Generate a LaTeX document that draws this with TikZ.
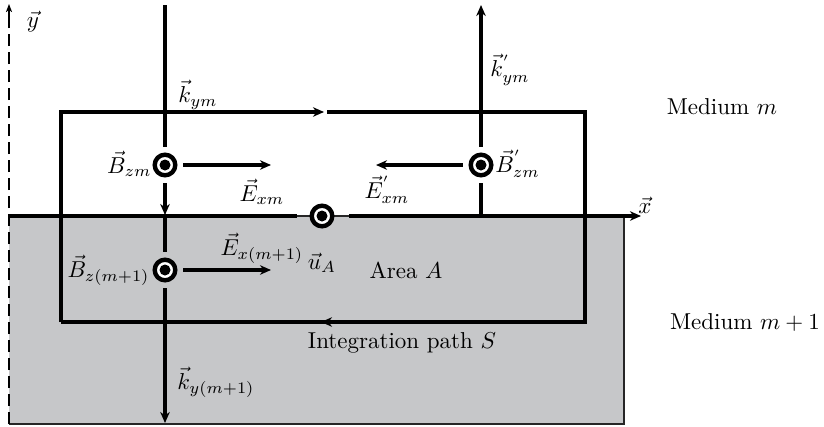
\documentclass[tikz,border=0pt]{standalone}
\usetikzlibrary{arrows.meta}
\definecolor{mgrey}{RGB}{198,199,201}
\begin{document}
\begin{tikzpicture}[x=1pt,y=-1pt,
  thickline/.style={line width=3.9pt},
  arr/.style={-{Stealth[length=11pt,width=9.5pt,inset=3.5pt]}},
  smallarr/.style={-{Stealth[length=8pt,width=6pt,inset=2pt]}},
  lbl/.style={scale=2.3, inner sep=0pt},
  dotc/.style={circle, minimum size=36pt, inner sep=0pt, path picture={
     \fill[white] (path picture bounding box.center) circle (10pt);
     \draw[line width=4.4pt] (path picture bounding box.center) circle (10.3pt);
     \fill (path picture bounding box.center) circle (5.5pt);}},
  dotu/.style={circle, minimum size=28pt, inner sep=0pt, path picture={
     \fill[white] (path picture bounding box.center) circle (10pt);
     \draw[line width=4.4pt] (path picture bounding box.center) circle (10.3pt);
     \fill (path picture bounding box.center) circle (5.5pt);}},
]
\useasboundingbox (0,0) rectangle (824,426);

% medium m+1 region
\fill[mgrey] (9,216) rectangle (624,424);
\draw[line width=1.3pt, black!85] (9,216) -- (624,216) -- (624,424) -- (9,424);

% coordinates
\coordinate (ytop) at (9,4);
\coordinate (ymid) at (9,20);
\coordinate (ybot) at (9,424);
\coordinate (xs) at (9,216);
\coordinate (xg1) at (297,216);
\coordinate (xg2) at (349,216);
\coordinate (xe) at (641,216);
\coordinate (p1) at (61,112);
\coordinate (p2) at (585,112);
\coordinate (p3) at (585,322);
\coordinate (p4) at (61,322);
\coordinate (pt1) at (324,112);
\coordinate (pt2) at (327,112);
\coordinate (pb) at (321,322);
\coordinate (ktop) at (165,5);
\coordinate (kax) at (165,215);
\coordinate (kax2) at (165,216);
\coordinate (kbot) at (165,423);
\coordinate (krax) at (481,216);
\coordinate (krtop) at (481,5);
\coordinate (e1) at (271,165);
\coordinate (e2) at (376,165);
\coordinate (e3) at (271,270);

% integration path
\draw[thickline, arr] (p4) -- (p1) -- (pt1);
\draw[thickline] (pt2) -- (p2) -- (p3) -- (pb);
\draw[thickline, arr] (p3) -- (pb);
\draw[thickline] (p4) -- (pb);

% axes
\draw[line width=2pt, dash pattern=on 12pt off 6pt] (ybot) -- (ymid);
\draw[line width=2pt, smallarr] (ymid) -- (ytop);
\draw[thickline] (xs) -- (xg1);
\draw[thickline, arr] (xg2) -- (xe);

% circles
\node[dotc] (Bzm) at (165,165) {};
\node[dotc] (Bzmp) at (481,165) {};
\node[dotc] (Bz1) at (165,270) {};
\node[dotu] (uA) at (322,216) {};

% wave vectors
\draw[thickline] (ktop) -- (Bzm);
\draw[thickline, arr] (Bzm) -- (kax);
\draw[thickline] (kax2) -- (Bz1);
\draw[thickline, arr] (Bz1) -- (kbot);
\draw[thickline] (krax) -- (Bzmp);
\draw[thickline, arr] (Bzmp) -- (krtop);

% E fields
\draw[thickline, arr] (Bzm) -- (e1);
\draw[thickline, arr] (Bzmp) -- (e2);
\draw[thickline, arr] (Bz1) -- (e3);

% labels
\node[lbl] (ly) at (33,22) {$\vec{y}$};
\node[lbl] (lx) at (645,205) {$\vec{x}$};
\node[lbl] (lkym) at (198,95) {$\vec{k}_{ym}$};
\node[lbl] (lkymp) at (510,70) {$\vec{k}^{'}_{ym}$};
\node[lbl] (lmm) at (722,107) {Medium $m$};
\node[lbl] (lmm1) at (745,322) {Medium $m+1$};
\node[lbl, anchor=east] (lBzm) at (152,164) {$\vec{B}_{zm}$};
\node[lbl, anchor=west] (lBzmp) at (495,164) {$\vec{B}^{'}_{zm}$};
\node[lbl] (lExm) at (262,192) {$\vec{E}_{xm}$};
\node[lbl] (lExmp) at (387,190) {$\vec{E}^{'}_{xm}$};
\node[lbl] (lEx1) at (262,248) {$\vec{E}_{x(m+1)}$};
\node[lbl, anchor=east] (lBz1) at (150,270) {$\vec{B}_{z(m+1)}$};
\node[lbl] (luA) at (322,263) {$\vec{u}_A$};
\node[lbl] (lA) at (406,270) {Area $A$};
\node[lbl] (lS) at (402,343) {Integration path $S$};
\node[lbl] (lky1) at (216,382) {$\vec{k}_{y(m+1)}$};
\end{tikzpicture}
\end{document}
